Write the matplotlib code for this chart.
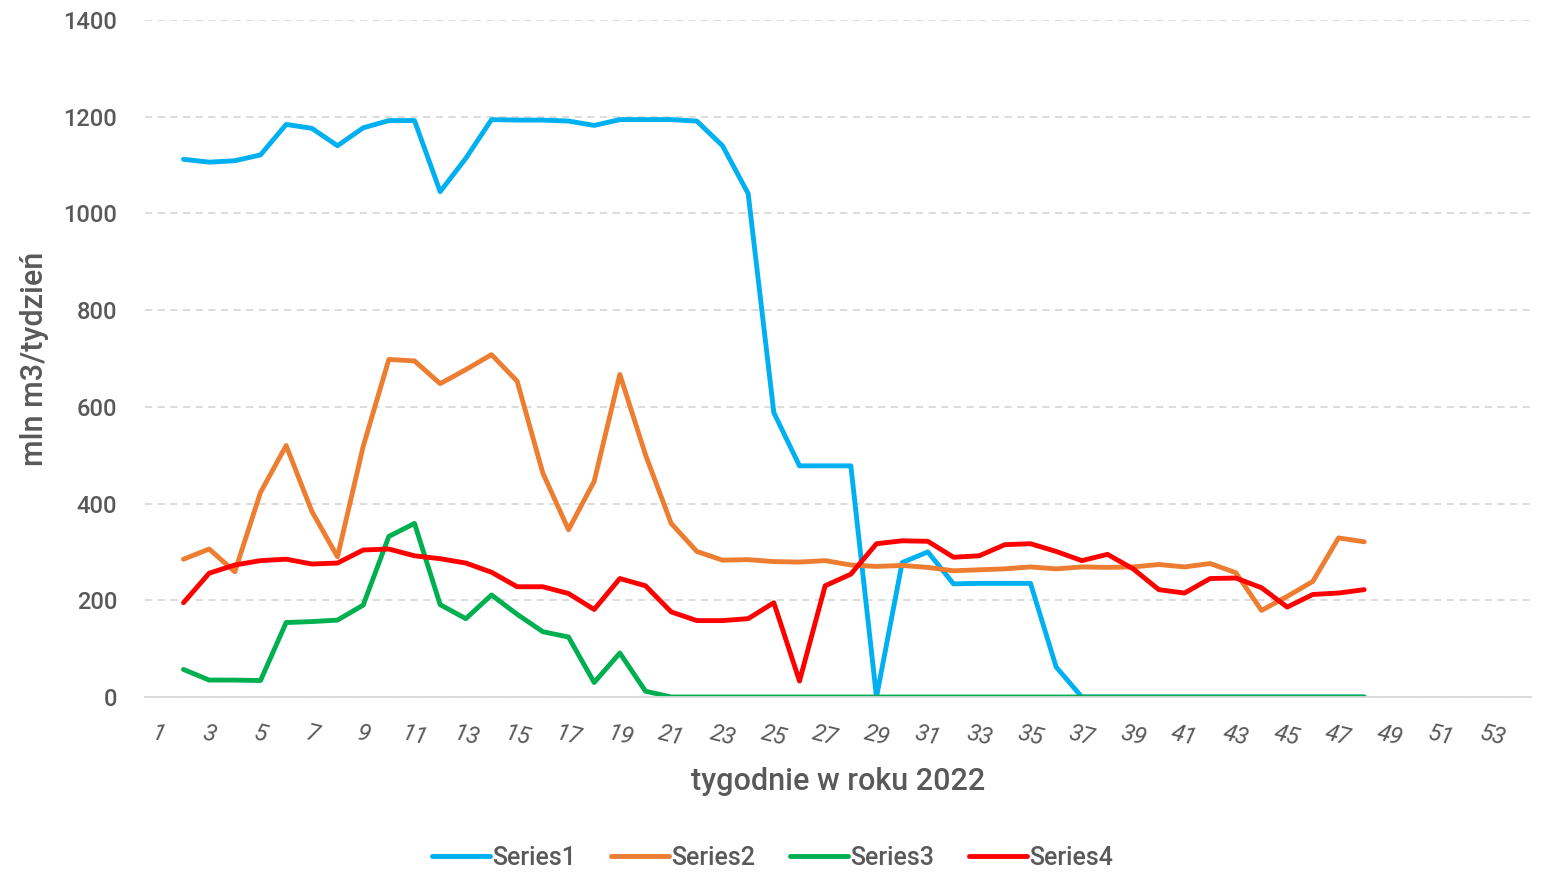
import numpy as np
import matplotlib
matplotlib.use("Agg")
import matplotlib.pyplot as plt

plt.rcParams['font.family'] = ['Roboto', 'DejaVu Sans']

weeks = list(range(2, 49))
series1 = [1112, 1106, 1109, 1121, 1184, 1176, 1140, 1177, 1192, 1192,
           1045, 1114, 1194, 1193, 1193, 1191, 1182, 1194, 1194, 1194,
           1191, 1140, 1041, 588, 478, 478, 478, 0, 278, 300,
           234, 235, 235, 235, 62, 0, 0, 0, 0, 0,
           0, 0, 0, 0, 0, 0, 0]
series2 = [285, 306, 259, 423, 520, 384, 290, 518, 698, 695,
           648, 677, 708, 653, 463, 346, 446, 667, 501, 359,
           301, 283, 284, 280, 279, 282, 273, 270, 272, 268,
           261, 263, 265, 269, 265, 269, 268, 269, 274, 269,
           276, 257, 179, 208, 239, 329, 321]
series3 = [57, 35, 35, 34, 154, 156, 159, 190, 332, 359,
           191, 162, 211, 171, 135, 124, 30, 91, 12, 0,
           0, 0, 0, 0, 0, 0, 0, 0, 0, 0,
           0, 0, 0, 0, 0, 0, 0, 0, 0, 0,
           0, 0, 0, 0, 0, 0, 0]
series4 = [195, 256, 273, 282, 285, 275, 277, 304, 306, 292,
           286, 277, 258, 228, 228, 214, 181, 245, 230, 176,
           158, 158, 162, 195, 33, 230, 254, 317, 323, 322,
           289, 292, 315, 317, 301, 282, 295, 265, 222, 215,
           245, 246, 226, 186, 212, 215, 222]

names = ['Series1', 'Series2', 'Series3', 'Series4']
colors = ['#00b0f0', '#ed7d31', '#00b050', '#ff0000']
xticks = list(range(1, 55, 2))

fig = plt.figure(figsize=(15.45, 8.72), dpi=100)
ax = fig.add_axes([145/1545, 1 - 697/872, (1531-145)/1545, (697-20)/872])

for vals, name, c in zip([series1, series2, series3, series4], names, colors):
    ax.plot(weeks, vals, color=c, lw=3.5, label=name, solid_capstyle='round', solid_joinstyle='round')

grey = '#595959'
ax.set_xlim(0.5, 54.5)
ax.set_ylim(0, 1400)
ax.set_yticks(range(0, 1401, 200))
ax.set_yticklabels([str(v) for v in range(0, 1401, 200)], fontsize=17, color=grey, fontweight='medium')
ax.set_xticks(xticks)
ax.set_xticklabels([str(t) for t in xticks], rotation=-14, fontsize=17, color=grey, style='italic')
ax.tick_params(axis='y', length=0, pad=20)
ax.tick_params(axis='x', length=0, pad=18)
ax.grid(axis='y', color='#d9d9d9', linestyle=(0, (4, 3)), lw=1.3)
ax.set_axisbelow(True)
for s in ['top', 'right', 'left']:
    ax.spines[s].set_visible(False)
ax.spines['bottom'].set_color('#d9d9d9')
ax.spines['bottom'].set_linewidth(1.3)

ax.set_ylabel('mln m3/tydzień', fontsize=22, color=grey, fontweight='medium', labelpad=10)
ax.set_xlabel('tygodnie w roku 2022', fontsize=22, color=grey, fontweight='medium', labelpad=12)

fig.legend(loc='center', bbox_to_anchor=(0.5, 14/872), ncol=4, frameon=False,
           prop={'size': 18, 'weight': 'medium'}, labelcolor=grey,
           handlelength=2.3, handletextpad=0.1, columnspacing=1.4)

plt.savefig('out.png', dpi=100)
